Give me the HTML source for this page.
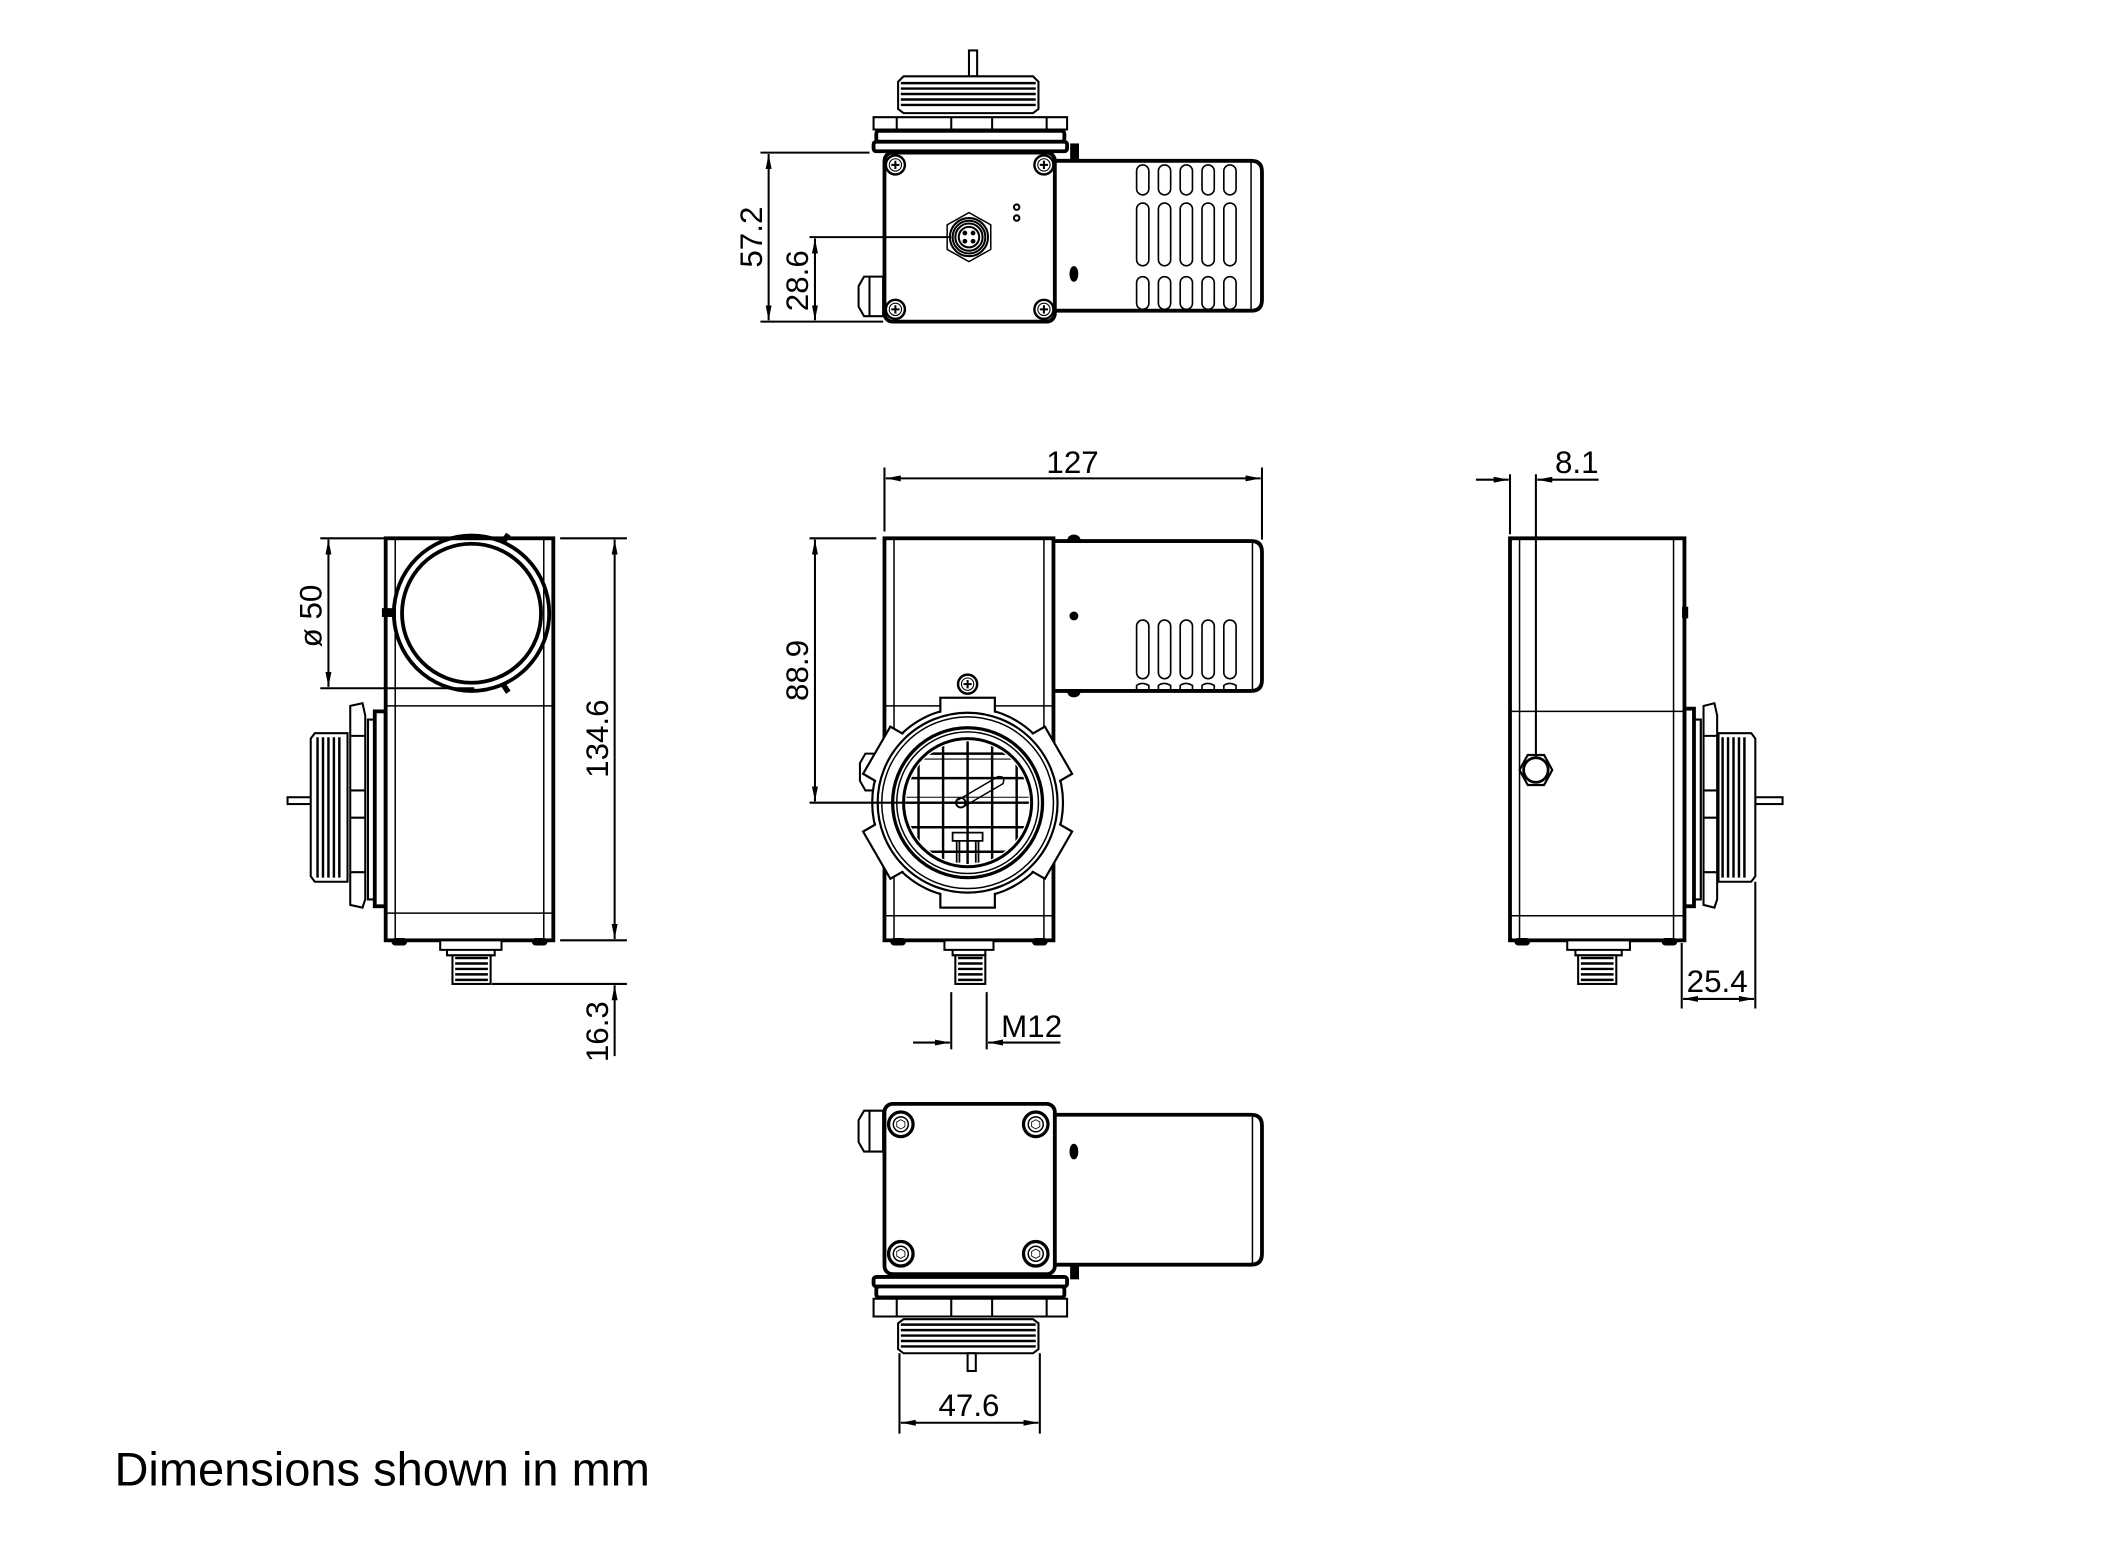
<!DOCTYPE html>
<html><head><meta charset="utf-8"><style>
html,body{margin:0;padding:0;background:#fff;}
svg{display:block;}
text{font-family:"Liberation Sans",sans-serif;fill:#000;}
</style></head><body>
<svg width="2126" height="1560" viewBox="0 0 1560 1144.7" preserveAspectRatio="none" xmlns="http://www.w3.org/2000/svg">
<defs>
<marker id="a" viewBox="0 0 10 4" refX="10" refY="2" markerWidth="11" markerHeight="4.4" markerUnits="userSpaceOnUse" orient="auto-start-reverse"><path d="M0 0L10 2L0 4z" fill="#000"/></marker>
<g id="screwP"><circle r="7" fill="#fff" stroke="#000" stroke-width="1.8"/><circle r="4.5" fill="none" stroke="#000" stroke-width="0.8"/><path d="M-3 0H3M0 -3V3" stroke="#000" stroke-width="1.5"/></g>
<g id="screwH"><circle r="9" fill="#fff" stroke="#000" stroke-width="2.4"/><circle r="5.5" fill="none" stroke="#000" stroke-width="1.1"/><path d="M-3 -1.7L0 -3.4L3 -1.7V1.7L0 3.4L-3 1.7z" fill="none" stroke="#000" stroke-width="0.6"/></g>
</defs>
<g transform="translate(-2 0)">
<g fill="none" stroke="#000" stroke-width="1.5">

<!-- ================= TOP VIEW ================= -->
<rect x="713" y="37" width="6" height="19" fill="#fff"/>
<path d="M665 56H760L764 60V80L760 83H665L661 80V60z" fill="#fff"/>
<path d="M663 61H762M663 65H762M663 69H762M663 73H762M663 77H762" stroke-width="1.8"/>
<path d="M643 86H785V95H643z" fill="#fff"/>
<path d="M660 86V95M700 86V95M730 86V95M770 86V95"/>
<rect x="645" y="96" width="138" height="8" rx="2" fill="#fff" stroke-width="2.8"/>
<rect x="643" y="104" width="142" height="7" rx="2" fill="#fff" stroke-width="2.8"/>
<rect x="788" y="106" width="5" height="12" fill="#000"/>
<path d="M776 118H920Q928 118 928 126V220Q928 228 920 228H776" stroke-width="2.8" fill="#fff"/>
<path d="M920 119V227" stroke-width="1.1"/>
<g stroke-width="1.2">
<rect x="836" y="121" width="9" height="22" rx="4.5"/><rect x="852" y="121" width="9" height="22" rx="4.5"/><rect x="868" y="121" width="9" height="22" rx="4.5"/><rect x="884" y="121" width="9" height="22" rx="4.5"/><rect x="900" y="121" width="9" height="22" rx="4.5"/>
<rect x="836" y="149" width="9" height="46" rx="4.5"/><rect x="852" y="149" width="9" height="46" rx="4.5"/><rect x="868" y="149" width="9" height="46" rx="4.5"/><rect x="884" y="149" width="9" height="46" rx="4.5"/><rect x="900" y="149" width="9" height="46" rx="4.5"/>
<rect x="836" y="203" width="9" height="24" rx="4.5"/><rect x="852" y="203" width="9" height="24" rx="4.5"/><rect x="868" y="203" width="9" height="24" rx="4.5"/><rect x="884" y="203" width="9" height="24" rx="4.5"/><rect x="900" y="203" width="9" height="24" rx="4.5"/>
</g>
<ellipse cx="790" cy="201" rx="2.5" ry="5" fill="#000"/>
<rect x="651" y="112" width="125" height="124" rx="6" fill="#fff" stroke-width="2.8"/>
<use href="#screwP" x="659" y="121"/><use href="#screwP" x="768" y="121"/><use href="#screwP" x="659" y="227"/><use href="#screwP" x="768" y="227"/>
<path d="M713 156L729 165V183L713 192L697 183V165z" stroke-width="1.1"/>
<circle cx="713" cy="174" r="14"/><circle cx="713" cy="174" r="12"/><circle cx="713" cy="174" r="10"/><circle cx="713" cy="174" r="7.5"/>
<circle cx="710" cy="171" r="1" fill="#000"/><circle cx="716" cy="171" r="1" fill="#000"/><circle cx="710" cy="177" r="1" fill="#000"/><circle cx="716" cy="177" r="1" fill="#000"/>
<circle cx="748" cy="152" r="2"/><circle cx="748" cy="160" r="2"/>
<path d="M636 203H650V232H636L632 225V210z" fill="#fff"/><path d="M640 203V232"/>
<path d="M560 112H640M560 236H650M596 174H700"/>
<path d="M566 113V235" marker-start="url(#a)" marker-end="url(#a)"/>
<path d="M600 175V235" marker-start="url(#a)" marker-end="url(#a)"/>

<!-- ================= FRONT VIEW ================= -->
<path d="M651 343V390M928 343V396"/>
<path d="M652 351H927" marker-start="url(#a)" marker-end="url(#a)"/>
<path d="M775 397H920Q928 397 928 405V499Q928 507 920 507H775" stroke-width="2.8" fill="#fff"/>
<path d="M921 398V506" stroke-width="1.1"/>
<g stroke-width="1.2">
<rect x="836" y="455" width="9" height="43" rx="4.5"/><rect x="852" y="455" width="9" height="43" rx="4.5"/><rect x="868" y="455" width="9" height="43" rx="4.5"/><rect x="884" y="455" width="9" height="43" rx="4.5"/><rect x="900" y="455" width="9" height="43" rx="4.5"/>
<path d="M836 507V503Q840 500 845 503V507M852 507V503Q856 500 861 503V507M868 507V503Q872 500 877 503V507M884 507V503Q888 500 893 503V507M900 507V503Q904 500 909 503V507"/>
</g>
<circle cx="790" cy="452" r="2.5" fill="#000"/>
<path d="M786 396A4 3 0 0 1 794 396z M786 508A4 3 0 0 0 794 508z" fill="#000"/>
<rect x="651" y="395" width="124" height="295" fill="#fff" stroke-width="2.8"/>
<path d="M658 396V689M768 396V689M652 518H774M652 672H774" stroke-width="1.1"/>
<use href="#screwP" x="712" y="502"/>
<rect x="656" y="689" width="10" height="4" rx="2" fill="#000"/><rect x="760" y="689" width="10" height="4" rx="2" fill="#000"/>
<path d="M695 690H731V697H695z M701 697H725V701H701z" fill="#fff"/>
<rect x="703" y="701" width="22" height="21" fill="#fff"/>
<path d="M705 703H723M705 707H723M705 711H723M705 715H723M705 719H723" stroke-width="1.8"/>
<path d="M637 553H648V580H637L633 573V560z" fill="#fff"/>
<g transform="translate(712 589)">
<circle r="70" fill="#fff" stroke-width="1.6"/>
<g fill="#fff" stroke-width="1.6">
<rect x="-20" y="-77" width="40" height="14"/>
<rect x="-20" y="-77" width="40" height="14" transform="rotate(180)"/>
<rect x="-20" y="-77" width="40" height="14" transform="rotate(60)"/>
<rect x="-20" y="-77" width="40" height="14" transform="rotate(120)"/>
<rect x="-20" y="-77" width="40" height="14" transform="rotate(240)"/>
<rect x="-20" y="-77" width="40" height="14" transform="rotate(300)"/>
</g>
<circle r="69" fill="#fff" stroke="none"/>
<circle r="66" stroke-width="1.6"/>
<circle r="63" stroke-width="1.1"/>
<circle r="55" stroke-width="2.4"/>
<circle r="52" stroke-width="1.1"/>
<circle r="47" stroke-width="2.2"/>
<clipPath id="lc"><circle r="45"/></clipPath>
<g clip-path="url(#lc)" stroke-width="1.8">
<path d="M-36 -50V50M-18 -50V50M0 -50V50M18 -50V50M36 -50V50M-50 -36H50M-50 -18H50M-50 0H50M-50 18H50M-50 36H50"/>
<path d="M-50 -32H50M-50 -4H50" stroke-width="0.8"/>
</g>
<path d="M-7 -2L22 -19Q28 -20 26 -14L-3 3" stroke-width="1.1"/>
<circle cx="-5" cy="0" r="3.5" stroke-width="1.4"/>
<path d="M-11 22H11V28H-11zM-8 28V44M8 28V44M-6 28V44M6 28V44" stroke-width="1.3"/>
</g>
<path d="M596 395H645M596 589H712"/>
<path d="M600 396V588" marker-start="url(#a)" marker-end="url(#a)"/>
<path d="M700 728V770M726 728V770"/>
<path d="M672 765H699" marker-end="url(#a)"/>
<path d="M780 765H727" marker-end="url(#a)"/>

<!-- ================= LEFT VIEW ================= -->
<rect x="213" y="585" width="18" height="5" fill="#fff"/>
<path d="M233 538H257V647H233L230 643V542z" fill="#fff"/>
<path d="M235 541V644M239 541V644M243 541V644M247 541V644M251 541V644" stroke-width="1.8"/>
<path d="M259 518L268 516L270 525V660L268 666L259 664z" fill="#fff"/>
<path d="M259 540H270M259 580H270M259 600H270M259 640H270"/>
<path d="M272 528H277V660H272z" fill="#fff" stroke-width="1.6"/>
<rect x="277" y="522" width="8" height="143" fill="#fff" stroke-width="2.8"/>
<rect x="285" y="395" width="123" height="295" fill="#fff" stroke-width="2.8"/>
<path d="M292 396V689M401 396V689M286 518H407M286 670H407" stroke-width="1.1"/>
<circle cx="348" cy="450" r="57" stroke-width="2.8"/>
<circle cx="348" cy="450" r="51" stroke-width="2.8"/>
<path d="M371 398L375 392M371 502L375 508" stroke-width="4"/>
<rect x="283" y="447" width="8" height="5" fill="#000"/>
<rect x="290" y="689" width="10" height="4" rx="2" fill="#000"/><rect x="393" y="689" width="10" height="4" rx="2" fill="#000"/>
<path d="M325 690H370V697H325z M330 697H365V701H330z" fill="#fff"/>
<rect x="334" y="701" width="28" height="21" fill="#fff"/>
<path d="M336 703H360M336 707H360M336 711H360M336 715H360M336 719H360" stroke-width="1.8"/>
<path d="M237 395H285M237 505H350"/>
<path d="M243 396V504" marker-start="url(#a)" marker-end="url(#a)"/>
<path d="M413 395H462M413 690H462M363 722H462"/>
<path d="M453 396V689" marker-start="url(#a)" marker-end="url(#a)"/>
<path d="M453 775V723" marker-end="url(#a)"/>

<!-- ================= RIGHT VIEW ================= -->
<rect x="1290" y="585" width="20" height="5" fill="#fff"/>
<path d="M1263 538H1287L1290 542V643L1287 647H1263z" fill="#fff"/>
<path d="M1266 541V644M1270 541V644M1274 541V644M1278 541V644M1282 541V644" stroke-width="1.8"/>
<path d="M1252 518L1260 516L1262 525V660L1260 666L1252 664z" fill="#fff"/>
<path d="M1252 540H1262M1252 580H1262M1252 600H1262M1252 640H1262"/>
<path d="M1245 528H1250V660H1245z" fill="#fff" stroke-width="1.6"/>
<rect x="1238" y="520" width="7" height="145" fill="#fff" stroke-width="2.8"/>
<rect x="1110" y="395" width="128" height="295" fill="#fff" stroke-width="2.8"/>
<path d="M1117 396V689M1230 396V689M1111 522H1237M1111 672H1237" stroke-width="1.1"/>
<rect x="1237" y="446" width="3" height="7" fill="#000"/>
<path d="M1117 565L1123 554H1135L1141 565L1135 576H1123z" fill="#fff" stroke-width="1.6"/>
<circle cx="1129" cy="565" r="9" stroke-width="2"/>
<rect x="1114" y="689" width="10" height="4" rx="2" fill="#000"/><rect x="1222" y="689" width="10" height="4" rx="2" fill="#000"/>
<path d="M1152 690H1198V697H1152z M1158 697H1192V701H1158z" fill="#fff"/>
<rect x="1160" y="701" width="28" height="21" fill="#fff"/>
<path d="M1162 703H1186M1162 707H1186M1162 711H1186M1162 715H1186M1162 719H1186" stroke-width="1.8"/>
<path d="M1110 348V392M1129 348V555"/>
<path d="M1085 352H1109" marker-end="url(#a)"/>
<path d="M1175 352H1130" marker-end="url(#a)"/>
<path d="M1236 692V740M1290 647V740"/>
<path d="M1237 733H1289" marker-start="url(#a)" marker-end="url(#a)"/>

<!-- ================= BOTTOM VIEW ================= -->
<path d="M775 818H920Q928 818 928 826V920Q928 928 920 928H775" stroke-width="2.8" fill="#fff"/>
<path d="M921 819V927" stroke-width="1.1"/>
<ellipse cx="790" cy="845" rx="2.5" ry="5" fill="#000"/>
<rect x="788" y="928" width="5" height="10" fill="#000"/>
<rect x="651" y="810" width="125" height="125" rx="6" fill="#fff" stroke-width="2.8"/>
<use href="#screwH" x="663" y="825"/><use href="#screwH" x="762" y="825"/><use href="#screwH" x="663" y="920"/><use href="#screwH" x="762" y="920"/>
<path d="M636 815H650V845H636L632 838V822z" fill="#fff"/><path d="M640 815V845"/>
<rect x="643" y="937" width="142" height="7" rx="2" fill="#fff" stroke-width="2.8"/>
<rect x="645" y="944" width="138" height="8" rx="2" fill="#fff" stroke-width="2.8"/>
<path d="M643 953H785V966H643z" fill="#fff"/>
<path d="M660 953V966M700 953V966M730 953V966M770 953V966"/>
<path d="M665 968H760L764 971V990L760 993H665L661 990V971z" fill="#fff"/>
<path d="M663 972H762M663 976H762M663 980H762M663 984H762M663 988H762" stroke-width="1.8"/>
<rect x="712" y="993" width="6" height="13" fill="#fff"/>
<path d="M662 993V1052M765 993V1052"/>
<path d="M663 1044H764" marker-start="url(#a)" marker-end="url(#a)"/>
</g>

<g font-size="23">
<text x="789" y="347" text-anchor="middle">127</text>
<text x="1159" y="347" text-anchor="middle">8.1</text>
<text x="1262" y="728" text-anchor="middle">25.4</text>
<text x="759" y="761" text-anchor="middle">M12</text>
<text x="713" y="1039" text-anchor="middle">47.6</text>
<text transform="translate(561 174) rotate(-90)" text-anchor="middle">57.2</text>
<text transform="translate(595 206) rotate(-90)" text-anchor="middle">28.6</text>
<text transform="translate(595 492) rotate(-90)" text-anchor="middle">88.9</text>
<text transform="translate(238 452) rotate(-90)" text-anchor="middle">ø 50</text>
<text transform="translate(448 542) rotate(-90)" text-anchor="middle">134.6</text>
<text transform="translate(448 757) rotate(-90)" text-anchor="middle">16.3</text>
</g>
</g>
<text x="84" y="1090" font-size="34.5">Dimensions shown in mm</text>
</svg>
</body></html>
